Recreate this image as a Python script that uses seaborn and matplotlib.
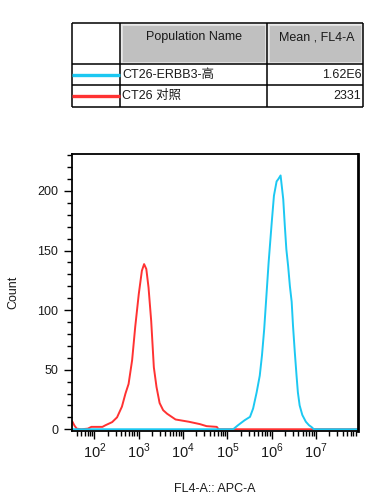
import numpy as np
import pandas as pd
import matplotlib
matplotlib.use('Agg')
import matplotlib.pyplot as plt
from matplotlib.patches import Rectangle
from matplotlib.ticker import FixedLocator, LogLocator, MultipleLocator, NullFormatter
import seaborn as sns

sns.set_theme(style='ticks')
plt.rcParams['font.family'] = ['Liberation Sans', 'Noto Sans CJK SC', 'DejaVu Sans']
plt.rcParams['mathtext.fontset'] = 'custom'
plt.rcParams['mathtext.rm'] = 'Liberation Sans'
plt.rcParams['axes.unicode_minus'] = False

# 数据（横轴为 FL4-A 的十进制指数）
pop_names = ['CT26-ERBB3-高', 'CT26 对照']
pop_means = ['1.62E6', '2331']
pop_colors = ['#1cc8f2', '#ff3232']
headers = ['Population Name', 'Mean , FL4-A']
x_decades = [2, 3, 4, 5, 6, 7]

ctrl_log = [1.50, 1.55, 1.60, 1.70, 1.85, 1.93, 2.00, 2.18, 2.25, 2.40, 2.51, 2.62,
            2.70, 2.77, 2.85, 2.92, 3.00, 3.07, 3.12, 3.17, 3.22, 3.28, 3.34, 3.40,
            3.47, 3.55, 3.64, 3.83, 4.13, 4.38, 4.53, 4.76, 4.80, 5.50, 6.50, 7.94]
ctrl_count = [6.5, 3, 0.5, 0, 0.5, 2, 2, 2, 3.4, 6, 10, 19,
              30, 38, 58, 86, 113.5, 133, 138.6, 134.5, 119, 91, 52, 35.5,
              22, 16, 13, 8.2, 6.3, 4.3, 2.6, 2, 0, 0, 0, 0]

high_log = [1.50, 3.00, 4.50, 5.13, 5.24, 5.39, 5.51, 5.58, 5.66, 5.73, 5.78, 5.83,
            5.88, 5.93, 6.00, 6.05, 6.11, 6.15, 6.20, 6.26, 6.295, 6.33, 6.37, 6.41,
            6.45, 6.48, 6.52, 6.56, 6.59, 6.63, 6.69, 6.77, 6.84, 6.90, 6.95, 7.50, 7.94]
high_count = [0, 0, 0, 0, 3.4, 7.6, 10.4, 17.4, 31, 45, 62, 84,
              112, 140, 173.5, 196, 208, 210, 213, 193, 171, 151, 137, 120,
              107, 87, 65, 45, 31, 20, 12, 6.3, 3.4, 1.8, 0, 0, 0]

df_ctrl = pd.DataFrame({'FL4': 10 ** np.array(ctrl_log), 'Count': ctrl_count})
df_high = pd.DataFrame({'FL4': 10 ** np.array(high_log), 'Count': high_count})

W, H = 378, 503
fig = plt.figure(figsize=(W / 100, H / 100), dpi=100)

# ---- 表格（像素坐标）----
tab = fig.add_axes([0, 0, 1, 1])
tab.set_xlim(0, W)
tab.set_ylim(H, 0)
tab.axis('off')

x0, x1, x2, x3 = 71.7, 120.3, 267.3, 363
y0, y1, y2, y3 = 23.3, 64, 85.3, 106.7
for (a, b) in [(x1, x2), (x2, x3)]:
    tab.add_patch(Rectangle((a + 1.5, y0 + 1.5), b - a - 3, y1 - y0 - 3,
                            facecolor='#c0c0c0', edgecolor='#e6e6e6', lw=1.2))
for yy in [y0, y1, y2, y3]:
    tab.plot([x0, x3], [yy, yy], color='black', lw=1.1, solid_capstyle='butt')
for xx in [x0, x1, x2, x3]:
    tab.plot([xx, xx], [y0, y3], color='black', lw=1.1, solid_capstyle='butt')

txt = '#1a1a1a'
fs = 9
tab.text((x1 + x2) / 2, 37, headers[0], ha='center', va='center', fontsize=fs, color=txt)
tab.text((x2 + x3) / 2 + 1.5, 37, headers[1], ha='center', va='center', fontsize=fs, color=txt)
for i, yc in enumerate([(y1 + y2) / 2, (y2 + y3) / 2]):
    tab.plot([x0, x1], [yc, yc], color=pop_colors[i], lw=2.4, solid_capstyle='butt')
    tab.text(x1 + 2, yc, pop_names[i], ha='left', va='center', fontsize=fs, color=txt)
    tab.text(x3 - 1.5, yc, pop_means[i], ha='right', va='center', fontsize=fs, color=txt)

# ---- 直方图 ----
ax = fig.add_axes([72.3 / W, 1 - 430.8 / H, (357.7 - 72.3) / W, (430.8 - 154) / H])
ax.set_xscale('log')
sns.lineplot(data=df_ctrl, x='FL4', y='Count', color=pop_colors[1], lw=1.4, ax=ax,
             estimator=None, sort=False)
sns.lineplot(data=df_high, x='FL4', y='Count', color=pop_colors[0], lw=1.4, ax=ax,
             estimator=None, sort=False)

ax.set_xlim(10 ** 1.5, 10 ** 7.94)
ax.set_ylim(-1.3, 231)
ax.xaxis.set_major_locator(FixedLocator([10.0 ** d for d in x_decades]))
ax.set_xticklabels([f'$10^{{{d}}}$' for d in x_decades])
ax.xaxis.set_minor_locator(LogLocator(base=10, subs=np.arange(2, 10), numticks=20))
ax.xaxis.set_minor_formatter(NullFormatter())
ax.yaxis.set_major_locator(MultipleLocator(50))
ax.yaxis.set_minor_locator(MultipleLocator(10))
ax.tick_params(axis='both', which='major', length=6, width=1, color='black',
               labelsize=9, labelcolor='#1a1a1a', direction='out')
ax.tick_params(axis='both', which='minor', length=3.5, width=1, color='black', direction='out')
ax.tick_params(axis='x', which='major', labelsize=10.5, pad=1.5)
ax.tick_params(axis='y', which='major', pad=4)
for side in ['left', 'bottom', 'top']:
    ax.spines[side].set_linewidth(1.3)
    ax.spines[side].set_color('black')
ax.spines['right'].set_linewidth(2)
ax.spines['right'].set_color('black')
ax.set_facecolor('white')

ax.set_xlabel('FL4-A:: APC-A', fontsize=9, color='#1a1a1a')
ax.set_ylabel('Count', fontsize=9, color='#1a1a1a')
ax.xaxis.set_label_coords(0.5, -0.19)
ax.yaxis.set_label_coords(-0.185, 0.5)

fig.savefig('out.png', dpi=100)
